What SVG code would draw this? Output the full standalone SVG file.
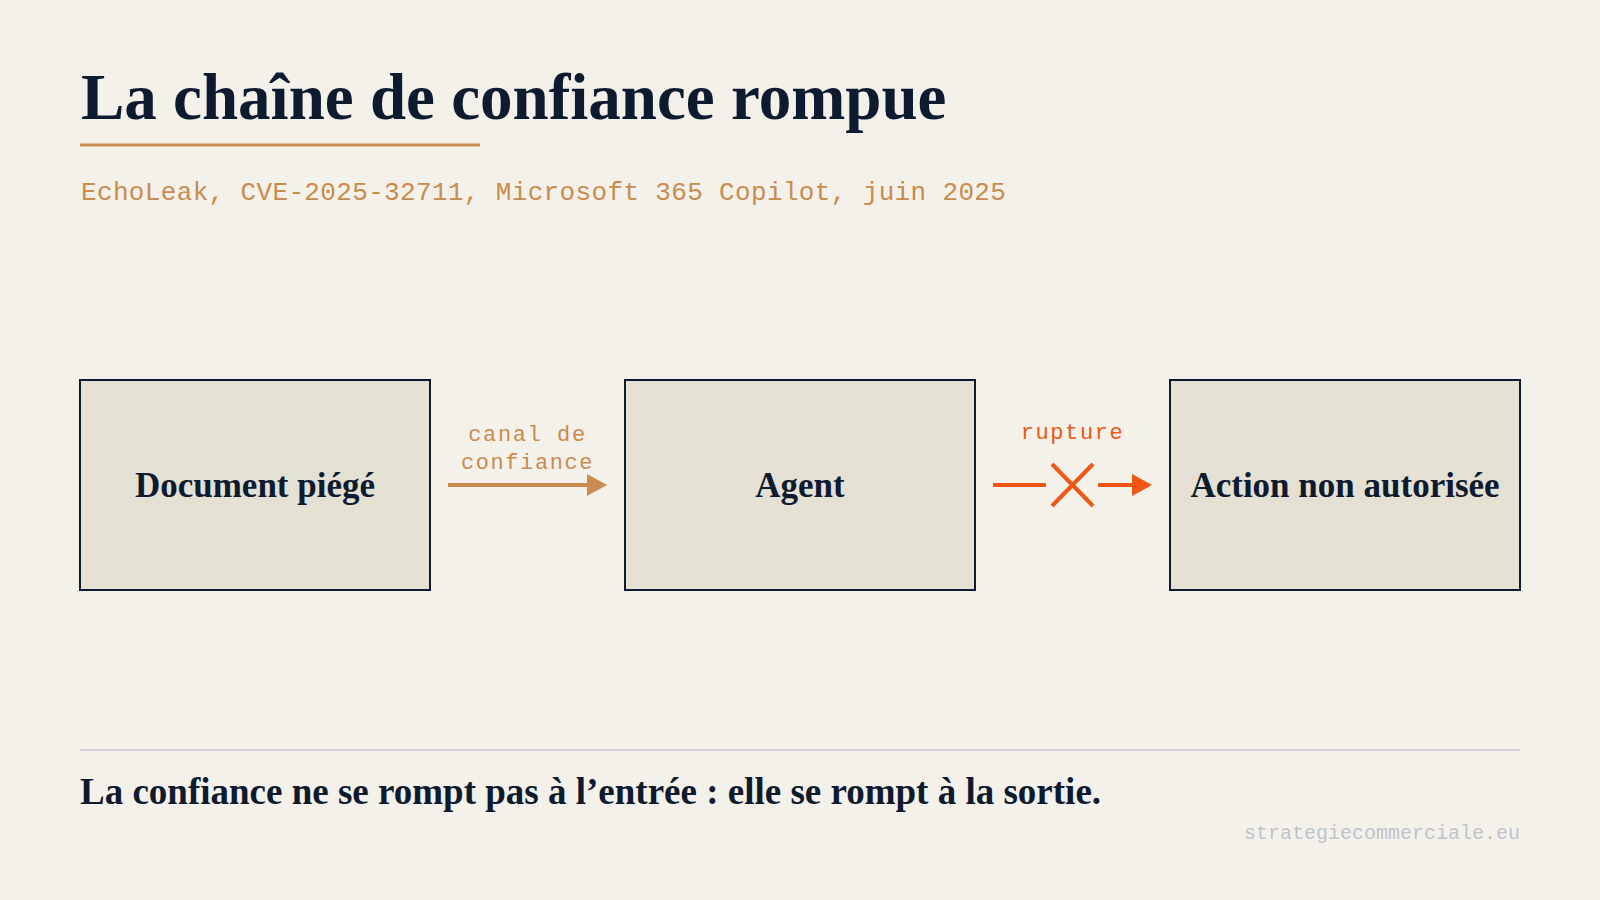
<svg xmlns="http://www.w3.org/2000/svg" width="1600" height="900" viewBox="0 0 1600 900">
  <defs>
    <style>
      .serif { font-family: "Liberation Serif", "DejaVu Serif", serif; font-weight: bold; fill: #0E1A2E; }
      .mono { font-family: "Liberation Mono", "DejaVu Sans Mono", monospace; }
      .box { fill: #E4E0D4; stroke: #0E1A2E; stroke-width: 2; }
      .lbl { font-size: 35px; text-anchor: middle; }
      .clbl { font-size: 22px; letter-spacing: 1.6px; text-anchor: middle; }
    </style>
    <marker id="arrTan" viewBox="0 0 20 22" refX="5" refY="11" markerWidth="20" markerHeight="22" markerUnits="userSpaceOnUse" orient="auto">
      <path d="M0,0 L20,11 L0,22 Z" fill="#C98B4E"/>
    </marker>
    <marker id="arrOrange" viewBox="0 0 20 22" refX="5" refY="11" markerWidth="20" markerHeight="22" markerUnits="userSpaceOnUse" orient="auto">
      <path d="M0,0 L20,11 L0,22 Z" fill="#EF5713"/>
    </marker>
  </defs>

  <rect x="0" y="0" width="1600" height="900" fill="#F4F1EA"/>

  <g id="header">
    <text class="serif" x="81" y="119" font-size="65">La chaîne de confiance rompue</text>
    <rect x="80" y="143.5" width="400" height="3" fill="#C98B4E"/>
    <text class="mono" x="81" y="200" font-size="26" letter-spacing="0.35" fill="#C98B4E">EchoLeak, CVE-2025-32711, Microsoft 365 Copilot, juin 2025</text>
  </g>

  <g id="node-document">
    <rect class="box" x="80" y="380" width="350" height="210"/>
    <text class="serif lbl" x="255" y="497">Document piégé</text>
  </g>

  <g id="node-agent">
    <rect class="box" x="625" y="380" width="350" height="210"/>
    <text class="serif lbl" x="800" y="497">Agent</text>
  </g>

  <g id="node-action">
    <rect class="box" x="1170" y="380" width="350" height="210"/>
    <text class="serif lbl" x="1345" y="497">Action non autorisée</text>
  </g>

  <g id="connectors">
    <g id="edge-canal">
      <line x1="448" y1="485" x2="592" y2="485" stroke="#C98B4E" stroke-width="4" marker-end="url(#arrTan)"/>
      <text class="mono clbl" x="527.5" y="441" fill="#C98B4E">canal de</text>
      <text class="mono clbl" x="527.5" y="469" fill="#C98B4E">confiance</text>
    </g>
    <g id="edge-rupture">
      <line x1="993" y1="485" x2="1046" y2="485" stroke="#EF5713" stroke-width="4"/>
      <line x1="1052" y1="464" x2="1093" y2="506" stroke="#EF5713" stroke-width="4"/>
      <line x1="1093" y1="464" x2="1052" y2="506" stroke="#EF5713" stroke-width="4"/>
      <line x1="1098" y1="485" x2="1137" y2="485" stroke="#EF5713" stroke-width="4" marker-end="url(#arrOrange)"/>
      <text class="mono clbl" x="1072.5" y="439" fill="#EF5713">rupture</text>
    </g>
  </g>

  <g id="footer">
    <line x1="80" y1="750" x2="1520" y2="750" stroke="#C7C8D0" stroke-width="1.5"/>
    <text class="serif" x="80" y="804" font-size="37">La confiance ne se rompt pas à l’entrée : elle se rompt à la sortie.</text>
    <text class="mono" x="1520" y="839" font-size="20" text-anchor="end" fill="#BFC3CC">strategiecommerciale.eu</text>
  </g>
</svg>
